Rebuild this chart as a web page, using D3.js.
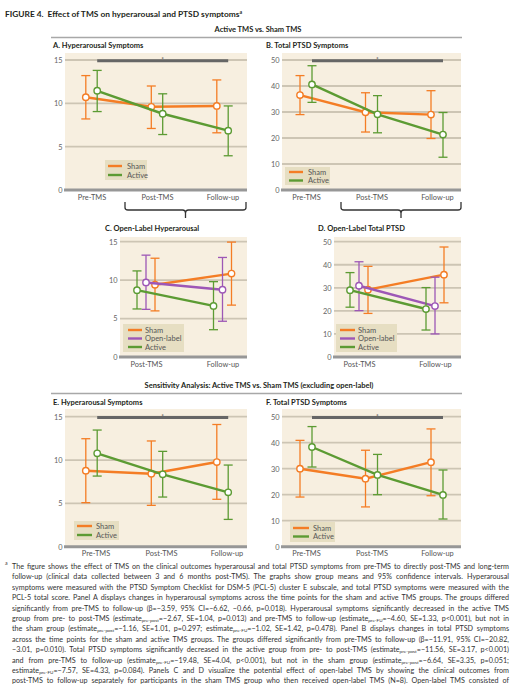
<!DOCTYPE html>
<html><head><meta charset="utf-8">
<script src="https://cdn.jsdelivr.net/npm/d3@7/dist/d3.min.js"></script>
<style>
body{margin:0;background:#fff;font-family:Lato,"Open Sans",sans-serif;}
#wrap{position:relative;width:517px;height:689px;overflow:hidden;background:#fff;}
svg{position:absolute;left:0;top:0;}
.cap{position:absolute;left:12px;width:497px;font-size:7.2px;line-height:10px;height:auto;color:#333;text-align:justify;text-align-last:justify;}
.cap sub{font-size:4.6px;vertical-align:-1.2px;line-height:0;}
.supa{position:absolute;left:5px;font-size:5.2px;color:#333;}
</style></head>
<body><div id="wrap"></div>
<script>
// ---------- DATA ----------
const timesFull = ["Pre-TMS", "Post-TMS", "Follow-up"];
const timesOpen = ["Post-TMS", "Follow-up"];
const hyperTicks = [0, 5, 10, 15];
const ptsdTicks = [0, 10, 20, 30, 40, 50];

// A. Hyperarousal (Active vs Sham)
const aShamMean = [10.7, 9.6, 9.7],  aShamLo = [8.2, 7.1, 6.6],  aShamHi = [13.2, 12.0, 12.7];
const aActMean  = [11.45, 8.8, 6.85], aActLo = [9.05, 6.4, 3.95], aActHi = [13.8, 11.1, 9.7];
// B. Total PTSD (Active vs Sham)
const bShamMean = [36.5, 29.9, 29.0], bShamLo = [29.0, 22.3, 19.8], bShamHi = [44.0, 37.4, 38.2];
const bActMean  = [40.6, 29.1, 21.3], bActLo  = [33.7, 22.0, 12.6], bActHi  = [47.8, 36.3, 29.8];
// C. Open-label hyperarousal
const cActMean  = [8.7, 6.65],  cActLo  = [6.25, 3.55], cActHi  = [11.2, 9.8];
const cOpenMean = [9.7, 8.75],  cOpenLo = [6.2, 4.65],  cOpenHi = [13.25, 12.95];
const cShamMean = [9.4, 10.85], cShamLo = [6.0, 6.75],  cShamHi = [12.85, 14.95];
// D. Open-label total PTSD
const dActMean  = [29.0, 20.8], dActLo  = [21.6, 11.7], dActHi  = [36.6, 30.1];
const dOpenMean = [30.9, 22.1], dOpenLo = [20.1, 10.0], dOpenHi = [41.3, 34.6];
const dShamMean = [29.2, 35.7], dShamLo = [18.9, 23.5], dShamHi = [39.3, 47.7];
// E. Sensitivity hyperarousal
const eShamMean = [8.77, 8.42, 9.77], eShamLo = [5.08, 4.77, 5.47], eShamHi = [12.46, 12.2, 14.1];
const eActMean  = [10.77, 8.35, 6.27], eActLo = [8.15, 5.73, 3.15], eActHi  = [13.46, 11.0, 9.42];
// F. Sensitivity total PTSD
const fShamMean = [30.0, 26.15, 32.5], fShamLo = [19.1, 15.3, 19.6], fShamHi = [40.9, 37.1, 45.3];
const fActMean  = [38.35, 27.6, 19.9], fActLo  = [30.65, 20.0, 10.65], fActHi = [46.2, 35.5, 29.5];

const legendAB = ["Sham", "Active"];
const legendCD = ["Sham", "Open-label", "Active"];

const captionLines = [
 "The figure shows the effect of TMS on the clinical outcomes hyperarousal and total PTSD symptoms from pre-TMS to directly post-TMS and long-term",
 "follow-up (clinical data collected between 3 and 6 months post-TMS). The graphs show group means and 95% confidence intervals. Hyperarousal",
 "symptoms were measured with the PTSD Symptom Checklist for DSM-5 (PCL-5) cluster E subscale, and total PTSD symptoms were measured with the",
 "PCL-5 total score. Panel A displays changes in hyperarousal symptoms across the time points for the sham and active TMS groups. The groups differed",
 "significantly from pre-TMS to follow-up (β=−3.59, 95% CI=−6.62, −0.66, p=0.018). Hyperarousal symptoms significantly decreased in the active TMS",
 "group from pre- to post-TMS (estimate_{pre-post}=−2.67, SE=1.04, p=0.013) and pre-TMS to follow-up (estimate_{pre-FU}=−4.60, SE=1.33, p&lt;0.001), but not in",
 "the sham group (estimate_{pre-post}=−1.16, SE=1.01, p=0.297; estimate_{pre-FU}=−1.02, SE=1.42, p=0.478). Panel B displays changes in total PTSD symptoms",
 "across the time points for the sham and active TMS groups. The groups differed significantly from pre-TMS to follow-up (β=−11.91, 95% CI=−20.82,",
 "−3.01, p=0.010). Total PTSD symptoms significantly decreased in the active group from pre- to post-TMS (estimate_{pre-post}=−11.56, SE=3.17, p&lt;0.001)",
 "and from pre-TMS to follow-up (estimate_{pre-FU}=−19.48, SE=4.04, p&lt;0.001), but not in the sham group (estimate_{pre-post}=−6.64, SE=3.35, p=0.051;",
 "estimate_{pre-FU}=−7.57, SE=4.33, p=0.084). Panels C and D visualize the potential effect of open-label TMS by showing the clinical outcomes from",
 "post-TMS to follow-up separately for participants in the sham TMS group who then received open-label TMS (N=8). Open-label TMS consisted of"
];

// ---------- STYLE ----------
const COL = {"Sham": "#f47d25", "Active": "#5c9b33", "Open-label": "#9d57b6"};
const BG = "#f7efe0", GRID = "#cdc5b4", ZERO = "#979797", LEGBG = "#e6dec2";
const TXT = "#231f20", TICK = "#666";

const W = 517, H = 689;
const wrap = d3.select("#wrap");
const svg = wrap.append("svg").attr("width", W).attr("height", H);

function mk(name, mean, lo, hi) { return {name, mean, lo, hi}; }

function panel(cfg) {
  const g = svg.append("g");
  g.append("rect").attr("x", cfg.left).attr("y", cfg.top)
    .attr("width", cfg.right - cfg.left).attr("height", cfg.y0 - cfg.top).attr("fill", BG);
  const y = d3.scaleLinear().domain([0, cfg.max]).range([cfg.y0, cfg.yTop]);
  const x = d3.scalePoint().domain(cfg.cats).range([cfg.xFirst, cfg.xLast]);
  const xs = d3.scalePoint().domain(cfg.order).range([-cfg.dodge, cfg.dodge]);

  g.selectAll("line.grid").data(cfg.ticks.filter(t => t > 0)).join("line")
    .attr("class", "grid").attr("x1", cfg.left).attr("x2", cfg.right)
    .attr("y1", d => y(d)).attr("y2", d => y(d)).attr("stroke", GRID).attr("stroke-width", 1.8);
  g.append("line").attr("x1", cfg.left - 1).attr("x2", cfg.right).attr("y1", y(0)).attr("y2", y(0))
    .attr("stroke", ZERO).attr("stroke-width", 3);

  const ya = g.append("g").attr("transform", `translate(${cfg.left},0)`)
    .call(d3.axisLeft(y).tickValues(cfg.ticks).tickSize(0).tickPadding(2.5));
  ya.select(".domain").remove();
  ya.selectAll("text").attr("fill", TICK).style("font-size", "7.4px").style("font-family", "Lato");

  const xa = g.append("g").attr("transform", `translate(${cfg.labelDx || 0},${cfg.y0})`)
    .call(d3.axisBottom(x).tickSize(0).tickPadding(4.3));
  xa.select(".domain").remove();
  xa.selectAll("text").attr("fill", "#555").style("font-size", "7.4px").style("font-family", "Lato");

  // significance bar
  if (cfg.sig) {
    const xa1 = x(cfg.cats[0]) + xs("Active"), xa2 = x(cfg.cats[cfg.cats.length - 1]) + xs("Active");
    const yb = y(cfg.max) + 0.7;
    g.append("line").attr("x1", xa1).attr("x2", xa2).attr("y1", yb).attr("y2", yb)
      .attr("stroke", "#666").attr("stroke-width", 3);
    g.append("text").attr("x", (xa1 + xa2) / 2).attr("y", yb + 0.6).attr("text-anchor", "middle")
      .attr("fill", "#333").style("font-size", "6.5px").style("font-family", "Lato").text("*");
  }

  // series
  cfg.series.forEach(s => {
    const c = COL[s.name];
    const pts = cfg.cats.map((k, i) => ({x: x(k) + xs(s.name), m: s.mean[i], lo: s.lo[i], hi: s.hi[i]}));
    const eb = g.append("g");
    pts.forEach(p => {
      eb.append("line").attr("x1", p.x).attr("x2", p.x).attr("y1", y(p.lo)).attr("y2", y(p.hi))
        .attr("stroke", c).attr("stroke-width", 1.3);
      [p.lo, p.hi].forEach(v => eb.append("line").attr("x1", p.x - 4.5).attr("x2", p.x + 4.5)
        .attr("y1", y(v)).attr("y2", y(v)).attr("stroke", c).attr("stroke-width", 1.3));
    });
    g.append("path").datum(pts)
      .attr("d", d3.line().x(p => p.x).y(p => y(p.m)))
      .attr("fill", "none").attr("stroke", c).attr("stroke-width", 2.4);
    g.selectAll(null).data(pts).join("circle")
      .attr("cx", p => p.x).attr("cy", p => y(p.m)).attr("r", 3.2)
      .attr("fill", "#fff").attr("stroke", c).attr("stroke-width", 1.4);
  });

  // legend
  const L = cfg.legend;
  g.append("rect").attr("x", L.box[0]).attr("y", L.box[1]).attr("width", L.box[2] - L.box[0])
    .attr("height", L.box[3] - L.box[1]).attr("fill", LEGBG);
  L.names.forEach((n, i) => {
    const yy = L.rows[i];
    g.append("line").attr("x1", L.sw[0]).attr("x2", L.sw[1]).attr("y1", yy).attr("y2", yy)
      .attr("stroke", COL[n]).attr("stroke-width", 2.4);
    g.append("text").attr("x", L.tx).attr("y", yy).attr("dy", "0.35em").attr("fill", "#555")
      .style("font-size", "7.5px").style("font-family", "Lato").text(n);
  });
}

function txt(x, y, s, opt = {}) {
  return svg.append("text").attr("x", x).attr("y", y).attr("fill", opt.fill || TXT)
    .attr("text-anchor", opt.anchor || "start")
    .style("font-size", (opt.size || 7.5) + "px").style("font-weight", opt.weight || "bold")
    .style("font-family", "Lato").text(s);
}

// Title
const t = txt(5, 17, "", {size: 8.4});
t.append("tspan").text("FIGURE 4.");
t.append("tspan").attr("dx", 4).text("Effect of TMS on hyperarousal and PTSD symptoms");
t.append("tspan").attr("dy", -3).style("font-size", "5.2px").text("a");

txt(258, 31.5, "Active TMS vs. Sham TMS", {anchor: "middle"});
svg.append("line").attr("x1", 51).attr("x2", 462).attr("y1", 37.5).attr("y2", 37.5).attr("stroke", "#a8a8a8").attr("stroke-width", 1.5);
txt(53, 47.5, "A. Hyperarousal Symptoms");
txt(266, 47.5, "B. Total PTSD Symptoms");
txt(105, 230.5, "C. Open-Label Hyperarousal");
txt(318, 230.5, "D. Open-Label Total PTSD");
txt(259, 387.5, "Sensitivity Analysis: Active TMS vs. Sham TMS (excluding open-label)", {anchor: "middle"});
svg.append("line").attr("x1", 51).attr("x2", 462).attr("y1", 393.5).attr("y2", 393.5).attr("stroke", "#a8a8a8").attr("stroke-width", 1.5);
txt(53, 404.5, "E. Hyperarousal Symptoms");
txt(266, 404.5, "F. Total PTSD Symptoms");

// brackets
function bracket(x1, x2, xc, y1, y2, y3) {
  const p = d3.path();
  p.moveTo(x1, y1); p.lineTo(x1, y2 - 2.5); p.quadraticCurveTo(x1, y2, x1 + 3, y2);
  p.lineTo(xc - 3, y2); p.quadraticCurveTo(xc, y2, xc, y2 + 3); p.lineTo(xc, y3);
  p.moveTo(xc, y2 + 3); p.quadraticCurveTo(xc, y2, xc + 3, y2);
  p.lineTo(x2 - 3, y2); p.quadraticCurveTo(x2, y2, x2, y2 - 2.5); p.lineTo(x2, y1);
  svg.append("path").attr("d", p.toString()).attr("fill", "none").attr("stroke", "#333").attr("stroke-width", 1.3);
}
bracket(125, 246, 185.5, 202, 210, 218);
bracket(341, 461, 401, 202, 210, 218);

const legAB = (box, rows, sw, tx) => ({names: legendAB, box, rows, sw, tx});
const legCD = (box, rows, sw, tx) => ({names: legendCD, box, rows, sw, tx});

panel({left: 65, right: 247, top: 53, y0: 190, yTop: 60, xFirst: 91.5, xLast: 222.5, dodge: 5.7, max: 15,
  ticks: hyperTicks, cats: timesFull, order: ["Sham", "Active"], sig: true,
  series: [mk("Sham", aShamMean, aShamLo, aShamHi), mk("Active", aActMean, aActLo, aActHi)],
  legend: legAB([105, 160, 147, 180], [166, 175], [108, 122], 127)});
panel({left: 282, right: 461, top: 53, y0: 190, yTop: 60, xFirst: 306, xLast: 437, dodge: 6, max: 50,
  ticks: ptsdTicks, cats: timesFull, order: ["Sham", "Active"], sig: true,
  series: [mk("Sham", bShamMean, bShamLo, bShamHi), mk("Active", bActMean, bActLo, bActHi)],
  legend: legAB([285, 167, 330, 185], [172, 180.5], [289, 303], 308)});
panel({left: 120, right: 247, top: 237, y0: 357, yTop: 241.7, xFirst: 146, xLast: 222.5, dodge: 9, max: 15,
  ticks: hyperTicks, cats: timesOpen, order: ["Active", "Open-label", "Sham"], sig: false,
  series: [mk("Sham", cShamMean, cShamLo, cShamHi), mk("Open-label", cOpenMean, cOpenLo, cOpenHi), mk("Active", cActMean, cActLo, cActHi)],
  legend: legCD([123, 324, 184, 352], [330, 338.5, 347], [128, 142], 145)});
panel({left: 334, right: 461, top: 237, y0: 357, yTop: 241.7, xFirst: 359, xLast: 435, dodge: 9, max: 50,
  ticks: ptsdTicks, cats: timesOpen, order: ["Active", "Open-label", "Sham"], sig: false,
  series: [mk("Sham", dShamMean, dShamLo, dShamHi), mk("Open-label", dOpenMean, dOpenLo, dOpenHi), mk("Active", dActMean, dActLo, dActHi)],
  legend: legCD([336, 324, 397, 352], [330, 338.5, 347], [340, 355], 358)});
panel({left: 65, right: 247, top: 409, y0: 546.7, yTop: 416.7, xFirst: 91.5, xLast: 222.5, dodge: 5.7, max: 15,
  ticks: hyperTicks, cats: timesFull, order: ["Sham", "Active"], sig: true, labelDx: 4,
  series: [mk("Sham", eShamMean, eShamLo, eShamHi), mk("Active", eActMean, eActLo, eActHi)],
  legend: legAB([74, 521, 119, 540], [526, 535], [77, 92], 96)});
panel({left: 282, right: 461, top: 409, y0: 546.7, yTop: 416.7, xFirst: 306, xLast: 437, dodge: 6, max: 50,
  ticks: ptsdTicks, cats: timesFull, order: ["Sham", "Active"], sig: true,
  series: [mk("Sham", fShamMean, fShamLo, fShamHi), mk("Active", fActMean, fActLo, fActHi)],
  legend: legAB([290, 522, 335, 542], [528, 536.5], [293, 309], 313)});

// caption (justified lines; shrink a line slightly only if it would wrap)
wrap.append("div").attr("class", "supa").style("top", "560px").text("a");
captionLines.forEach((line, i) => {
  const d = wrap.append("div").attr("class", "cap").style("top", (562 + i * 10.4) + "px")
    .html(line.replace(/_\{([^}]*)\}/g, "<sub>$1</sub>"));
  let fs = 7.2;
  while (d.node().getBoundingClientRect().height > 14 && fs > 5) {
    fs -= 0.1;
    d.style("font-size", fs + "px");
  }
});
</script></body></html>
